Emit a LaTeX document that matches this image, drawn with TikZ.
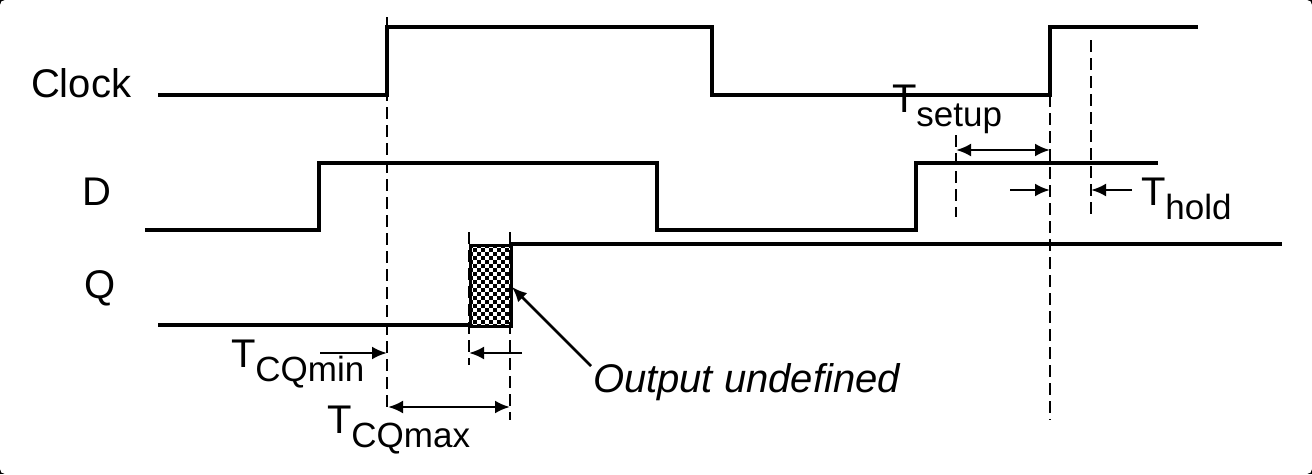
\documentclass[tikz,border=0pt]{standalone}
\usepackage{fontspec}
\setmainfont{Liberation Sans}
\usetikzlibrary{arrows.meta}
\newcommand\subtx[1]{\raisebox{-14pt}{\fontsize{35}{35}\selectfont #1}}
\tikzset{
  sig/.style={line width=3.4pt, line join=miter},
  dsh/.style={line width=1.9pt, dash pattern=on 12pt off 6pt},
  arr/.style={line width=2.7pt, -{Latex[length=15pt,width=13pt]}},
  darr/.style={line width=2.7pt, {Latex[length=15pt,width=13pt]}-{Latex[length=15pt,width=13pt]}},
  lbl/.style={inner sep=0pt, outer sep=0pt, anchor=base west, font=\fontsize{40}{40}\selectfont},
}
\begin{document}
\begin{tikzpicture}[x=1pt,y=-1pt]
\useasboundingbox (0,0) rectangle (1312,474);
\fill[black] (0,0) rectangle (1312,474);
\fill[white, rounded corners=5pt] (0,0) rectangle (1312,474);

% labels
\node[lbl] (lclk) at (31,97) {Clock};
\node[lbl] (ld) at (82,205) {D};
\node[lbl] (lq) at (84,298) {Q};

% Clock signal
\draw[sig] (158,95) -- (387,95) -- (387,27) -- (712,27) -- (712,95) -- (1050,95) -- (1050,27) -- (1198,27);
% D signal
\draw[sig] (145,230) -- (319,230) -- (319,163) -- (657,163) -- (657,230) -- (916,230) -- (916,163) -- (1158,163);
% Q signal
\draw[sig] (158,325) -- (469,325);
\draw[sig] (510,244) -- (1282,244);

% undefined box
\begin{scope}
\clip (469,244) rectangle (510,325);
\foreach \i in {0,...,5}
  \foreach \j in {0,...,10} {
    \fill (469+8*\i,244+8*\j) rectangle ++(4,4);
    \fill (473+8*\i,248+8*\j) rectangle ++(4,4);
  }
\end{scope}
\node[draw, line width=3.4pt, minimum width=41pt, minimum height=81pt, inner sep=0pt, anchor=north west] (ubox) at (469,244) {};

% dashed guide lines
\coordinate (d1t) at (387,17);  \coordinate (d1b) at (387,412);
\coordinate (d2t) at (469,232); \coordinate (d2b) at (469,365);
\coordinate (d3t) at (510,232); \coordinate (d3b) at (510,420);
\coordinate (d4t) at (956,135); \coordinate (d4b) at (956,217);
\coordinate (d5t) at (1050,95); \coordinate (d5b) at (1050,420);
\coordinate (d6t) at (1091,40); \coordinate (d6b) at (1091,217);
\draw[dsh] (d1t) -- (d1b);
\draw[dsh] (d2t) -- (d2b);
\draw[dsh] (d3t) -- (d3b);
\draw[dsh] (d4t) -- (d4b);
\draw[dsh] (d5t) -- (d5b);
\draw[dsh] (d6t) -- (d6b);

% T_CQmin
\node[lbl] (tcqmin) at (231,367) {T\subtx{CQmin}};
\coordinate (a1s) at (320,353); \coordinate (a1e) at (387,353);
\draw[arr] (a1s) -- (a1e);
\coordinate (a2s) at (522,353); \coordinate (a2e) at (469,353);
\draw[arr] (a2s) -- (a2e);

% T_CQmax
\node[lbl] (tcqmax) at (327,433) {T\subtx{CQmax}};
\coordinate (a3s) at (388,407); \coordinate (a3e) at (510,407);
\draw[darr] (a3s) -- (a3e);

% Output undefined
\node[lbl, font=\fontsize{40}{40}\selectfont\itshape] (ou) at (593,392) {Output undefined};
\coordinate (oua) at (591,366); \coordinate (oub) at (512,287);
\draw[arr] (oua) -- (oub);

% T_setup
\node[lbl] (tsetup) at (892,112) {T\subtx{setup}};
\coordinate (a4s) at (956,150); \coordinate (a4e) at (1050,150);
\draw[darr] (a4s) -- (a4e);

% T_hold
\node[lbl] (thold) at (1141,205) {T\subtx{hold}};
\coordinate (a5s) at (1010,190); \coordinate (a5e) at (1050,190);
\draw[arr] (a5s) -- (a5e);
\coordinate (a6s) at (1132,190); \coordinate (a6e) at (1091,190);
\draw[arr] (a6s) -- (a6e);
\end{tikzpicture}
\end{document}
